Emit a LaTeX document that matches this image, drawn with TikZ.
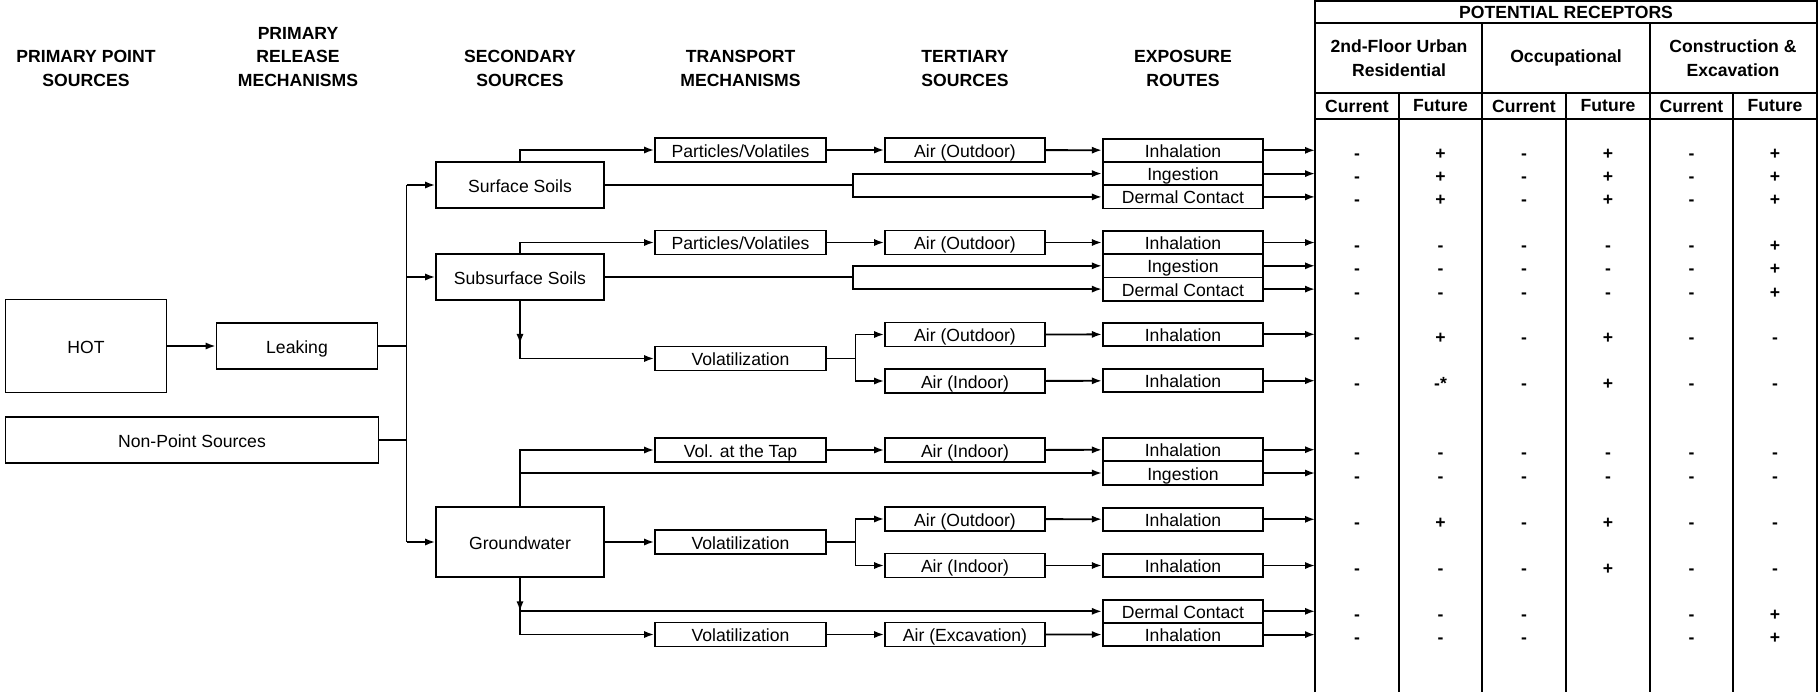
\documentclass[tikz,border=0pt]{standalone}
\usepackage{fontspec}
\setmainfont{Liberation Sans}
\usetikzlibrary{arrows.meta}

\begin{document}
\begin{tikzpicture}[x=0.5pt,y=-0.5pt,
	every node/.style={font=\fontsize{8.8}{11.75}\selectfont},
	head/.style={font=\fontsize{8.8}{11.75}\selectfont\bfseries,align=center,inner sep=0pt},
	box/.style={draw=black,line width=0.9pt,inner sep=0pt,text height=8pt,text depth=1pt},
	srcbox/.style={box,minimum width=84pt,minimum height=23pt},
	trbox/.style={box,minimum width=85.5pt,minimum height=12pt},
	airbox/.style={box,minimum width=80pt,minimum height=12pt},
	expbox/.style={box,minimum width=80.25pt,minimum height=11.65pt},
	arr/.style={-{Latex[length=5pt,width=3.6pt]},line width=0.9pt},
	ln/.style={line width=0.9pt},
	grid/.style={line width=1.1pt},
	sym/.style={font=\fontsize{8.8}{10}\selectfont\bfseries,anchor=base,inner sep=0pt}]
	
	\useasboundingbox (0,0) rectangle (1818,692);
	
	\node[head] (hPPS) at (86,68.5)     {PRIMARY POINT\\SOURCES};
	\node[head] (hPRM) at (298,57)      {PRIMARY\\RELEASE\\MECHANISMS};
	\node[head] (hSEC) at (520,68.5)    {SECONDARY\\SOURCES};
	\node[head] (hTRM) at (740.5,68.5)  {TRANSPORT\\MECHANISMS};
	\node[head] (hTER) at (965,68.5)    {TERTIARY\\SOURCES};
	\node[head] (hEXP) at (1183,68.5)   {EXPOSURE\\ROUTES};
	
	\node[box,minimum width=80.5pt,minimum height=46.5pt] (hot) at (86,346)   {HOT};
	\node[box,minimum width=80.5pt,minimum height=23pt]   (leak) at (297,346) {Leaking};
	\node[box,minimum width=186.5pt,minimum height=23pt]  (nps) at (192,440)  {Non-Point Sources};
	
	\node[srcbox] (surf) at (520,185)   {Surface Soils};
	\node[srcbox] (sub) at (520,277)    {Subsurface Soils};
	\node[srcbox,minimum height=35pt] (gw) at (520,542) {Groundwater};
	
	\node[trbox] (pv1) at (740.5,150)   {Particles/Volatiles};
	\node[trbox] (pv2) at (740.5,242.5) {Particles/Volatiles};
	\node[trbox] (vol1) at (740.5,358.5) {Volatilization};
	\node[trbox] (tap) at (740.5,450)   {Vol. at the Tap};
	\node[trbox] (vol2) at (740.5,542)  {Volatilization};
	\node[trbox] (vol3) at (740.5,634.5) {Volatilization};
	
	\node[airbox] (aout1) at (965,150)   {Air (Outdoor)};
	\node[airbox] (aout2) at (965,242.5) {Air (Outdoor)};
	\node[airbox] (aout3) at (965,334.5) {Air (Outdoor)};
	\node[airbox] (ain1) at (965,381)    {Air (Indoor)};
	\node[airbox] (ain2) at (965,450)    {Air (Indoor)};
	\node[airbox] (aout4) at (965,519)   {Air (Outdoor)};
	\node[airbox] (ain3) at (965,565.5)  {Air (Indoor)};
	\node[airbox] (aexc) at (965,634.5)  {Air (Excavation)};
	
	\node[expbox] (inh1) at (1183,150.3) {Inhalation};
	\node[expbox] (ing1) at (1183,173.6) {Ingestion};
	\node[expbox] (der1) at (1183,196.9) {Dermal Contact};
	\node[expbox] (inh2) at (1183,242.5) {Inhalation};
	\node[expbox] (ing2) at (1183,265.8) {Ingestion};
	\node[expbox] (der2) at (1183,289.1) {Dermal Contact};
	\node[expbox] (inh3) at (1183,334.3) {Inhalation};
	\node[expbox] (inh4) at (1183,380.7) {Inhalation};
	\node[expbox] (inh5) at (1183,449.7) {Inhalation};
	\node[expbox] (ing3) at (1183,473)   {Ingestion};
	\node[expbox] (inh6) at (1183,519.3) {Inhalation};
	\node[expbox] (inh7) at (1183,565.5) {Inhalation};
	\node[expbox] (der3) at (1183,611.3) {Dermal Contact};
	\node[expbox] (inh8) at (1183,634.6) {Inhalation};
	
	% receptor table
	\coordinate (tabL) at (1315,0);
	\draw[grid] (1315,692) -- (1315,1) -- (1816.8,1) -- (1816.8,692);
	\draw[grid] (1315,23) -- (1816.8,23);
	\draw[grid] (1315,93) -- (1816.8,93);
	\draw[grid] (1315,119) -- (1816.8,119);
	\draw[grid] (1482.3,23) -- (1482.3,692);
	\draw[grid] (1649.7,23) -- (1649.7,692);
	\draw[grid] (1398.7,93) -- (1398.7,692);
	\draw[grid] (1566,93) -- (1566,692);
	\draw[grid] (1733.3,93) -- (1733.3,692);
	
	\node[head] (recept) at (1566,12)  {POTENTIAL RECEPTORS};
	\node[head] (resid) at (1399,58)   {2nd-Floor Urban\\Residential};
	\node[head] (occup) at (1566,58)   {Occupational};
	\node[head] (constr) at (1733,58)  {Construction \&\\Excavation};
	\node[head] (curA) at (1357,106)   {Current};
	\node[head] (futA) at (1440.5,106) {Future};
	\node[head] (curB) at (1524,106)   {Current};
	\node[head] (futB) at (1608,106)   {Future};
	\node[head] (curC) at (1691.5,106) {Current};
	\node[head] (futC) at (1775,106)   {Future};
	
	\foreach \ry/\va/\vb/\vc/\vd/\ve/\vf [count=\k] in {150.3/-/+/-/+/-/+, 173.6/-/+/-/+/-/+, 196.9/-/+/-/+/-/+,
		242.5/-/-/-/-/-/+, 265.8/-/-/-/-/-/+, 289.1/-/-/-/-/-/+, 334.3/-/+/-/+/-/-, 380.7/-/-*/-/+/-/-,
		449.7/-/-/-/-/-/-, 473/-/-/-/-/-/-, 519.3/-/+/-/+/-/-, 565.5/-/-/-/+/-/-,
		611.3/-/-/-/{}/-/+, 634.6/-/-/-/{}/-/+}{
		\node[sym] (m\k a) at (1357,\ry+9)   {\va};
		\node[sym] (m\k b) at (1440.5,\ry+9) {\vb};
		\node[sym] (m\k c) at (1524,\ry+9)   {\vc};
		\node[sym] (m\k d) at (1608,\ry+9)   {\vd};
		\node[sym] (m\k e) at (1691.5,\ry+9) {\ve};
		\node[sym] (m\k f) at (1775,\ry+9)   {\vf};
	}
	
	% sources to secondary sources
	\coordinate (tTop) at (406.5,185);
	\coordinate (tBot) at (406.5,542);
	\draw[ln] (tTop) -- (tBot);
	\draw[arr] (hot.east) -- (leak.west);
	\draw[ln] (leak.east) -- (leak.east -| tTop);
	\draw[ln] (nps.east) -- (nps.east -| tTop);
	\draw[arr] (tTop) -- (surf.west);
	\draw[arr] (tTop |- sub.west) -- (sub.west);
	\draw[arr] (tBot) -- (gw.west);
	
	% surface soils
	\coordinate (sS) at (853,185);
	\draw[arr] (surf.north) |- (pv1.west);
	\draw[arr] (pv1) -- (aout1);
	\draw[arr] (aout1) -- (inh1);
	\draw[ln] (surf.east) -- (sS);
	\draw[arr] (sS) |- (ing1.west);
	\draw[arr] (sS) |- (der1.west);
	
	% subsurface soils
	\coordinate (sU) at (853,277);
	\draw[arr] (sub.north) |- (pv2.west);
	\draw[arr] (pv2) -- (aout2);
	\draw[arr] (aout2) -- (inh2);
	\draw[ln] (sub.east) -- (sU);
	\draw[arr] (sU) |- (ing2.west);
	\draw[arr] (sU) |- (der2.west);
	\draw[arr] (sub.south) -- ++(0,43);
	\draw[arr] (sub.south) |- (vol1.west);
	\coordinate (sV1) at (855.5,358.5);
	\draw[ln] (vol1.east) -- (sV1);
	\draw[arr] (sV1) |- (aout3.west);
	\draw[arr] (sV1) |- (ain1.west);
	\draw[arr] (aout3) -- (inh3);
	\draw[arr] (ain1) -- (inh4);
	
	% groundwater
	\draw[arr] (gw.north) |- (tap.west);
	\draw[arr] (gw.north |- ing3.west) -- (ing3.west);
	\draw[arr] (tap) -- (ain2);
	\draw[arr] (ain2) -- (inh5);
	\coordinate (sV2) at (855.5,542);
	\draw[arr] (gw.east) -- (vol2.west);
	\draw[ln] (vol2.east) -- (sV2);
	\draw[arr] (sV2) |- (aout4.west);
	\draw[arr] (sV2) |- (ain3.west);
	\draw[arr] (aout4) -- (inh6);
	\draw[arr] (ain3) -- (inh7);
	\draw[arr] (gw.south) -- (gw.south |- der3.west);
	\draw[arr] (gw.south |- der3.west) -- (der3.west);
	\draw[arr] (gw.south) |- (vol3.west);
	\draw[arr] (vol3) -- (aexc);
	\draw[arr] (aexc) -- (inh8);
	
	% exposure routes to receptors
	\foreach \e in {inh1,ing1,der1,inh2,ing2,der2,inh3,inh4,inh5,ing3,inh6,inh7,der3,inh8}
		\draw[arr] (\e.east) -- (\e.east -| tabL);
	
\end{tikzpicture}
\end{document}
